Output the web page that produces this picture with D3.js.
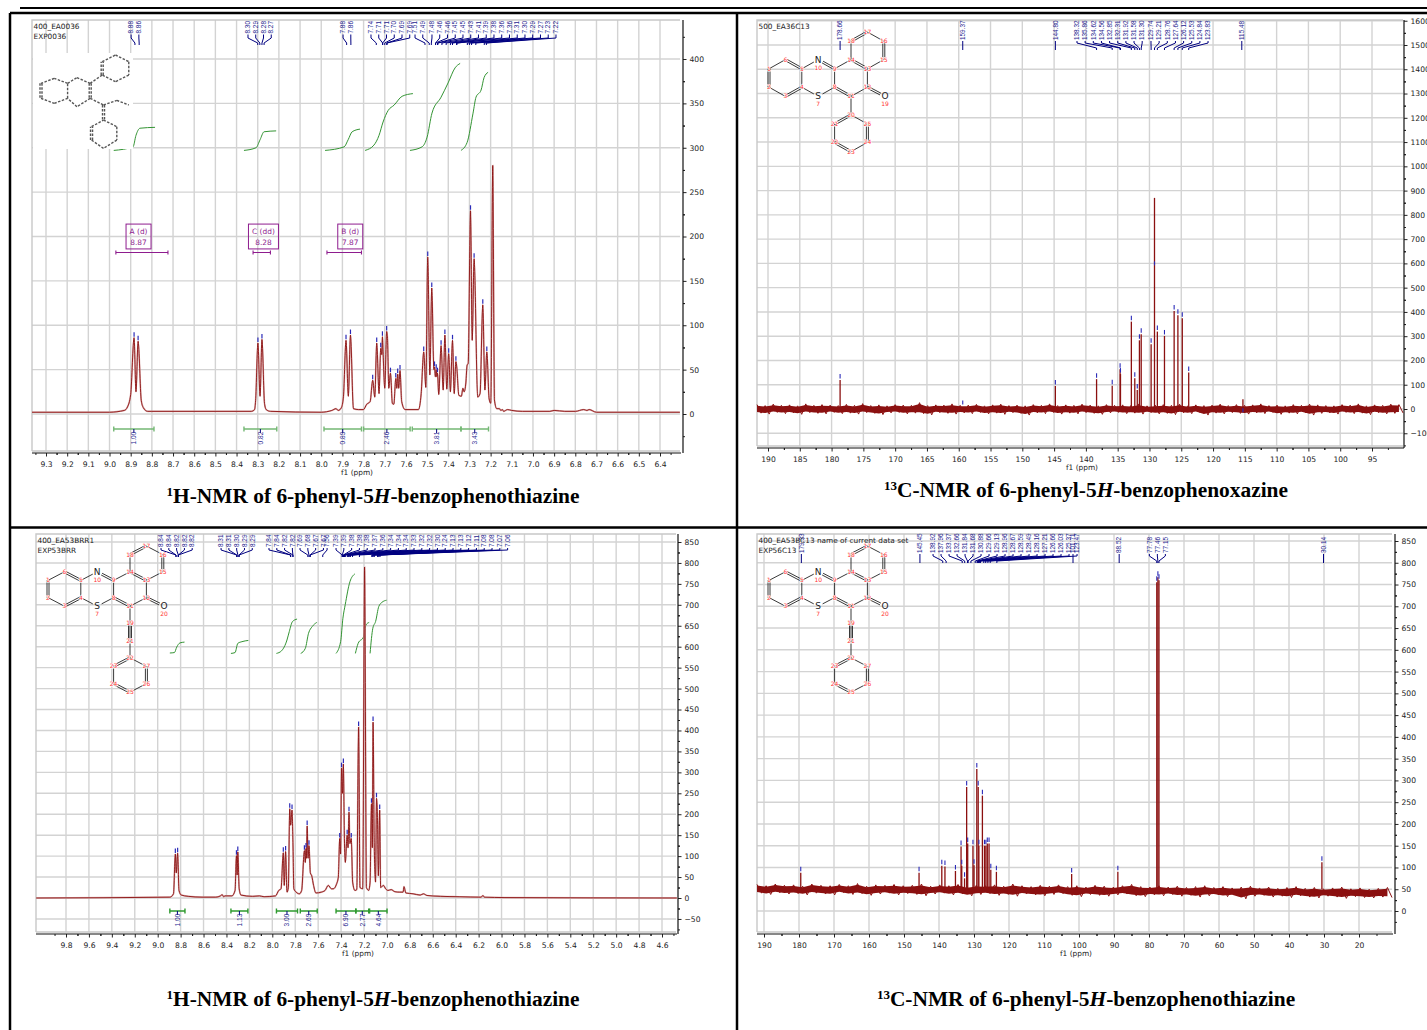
<!DOCTYPE html>
<html>
<head>
<meta charset="utf-8">
<script src="https://d3js.org/d3.v7.min.js"></script>
<style>
  body { margin: 0; background: #fff; }
  svg { display: block; }
</style>
</head>
<body>
<script>
// ---------- panel 1: 1H top left ----------
const p1XTicks = [9.3,9.2,9.1,9.0,8.9,8.8,8.7,8.6,8.5,8.4,8.3,8.2,8.1,8.0,7.9,7.8,7.7,7.6,7.5,7.4,7.3,7.2,7.1,7.0,6.9,6.8,6.7,6.6,6.5,6.4];
const p1YTicks = [0,50,100,150,200,250,300,350,400];
const p1Trace = [[9.366,2],[9.0,2],[8.93,4],[8.915,8],[8.9,22],[8.884,86],[8.875,25],[8.865,82],[8.85,15],[8.84,7],[8.82,3],[8.8,3],
  [8.33,3],[8.315,5],[8.31,15],[8.299,80],[8.289,20],[8.28,84],[8.268,12],[8.26,5],[8.24,3],[8.0,2],
  [7.95,4],[7.93,6],[7.92,4],[7.905,7],[7.895,20],[7.883,83],[7.872,20],[7.862,89],[7.848,6],[7.824,5],[7.801,5],[7.785,11],[7.769,14],
  [7.757,38],[7.747,19],[7.738,80],[7.727,23],[7.719,74],[7.714,67],[7.711,87],[7.708,70],[7.7,29],[7.691,93],[7.687,85],[7.681,29],
  [7.673,46],[7.664,12],[7.657,11],[7.648,40],[7.643,29],[7.639,45],[7.634,29],[7.628,49],[7.62,14],[7.604,5],[7.541,5],[7.528,23],
  [7.516,70],[7.506,30],[7.497,177],[7.487,44],[7.478,142],[7.468,50],[7.465,53],[7.461,42],[7.457,50],[7.454,42],[7.451,46],[7.445,22],
  [7.434,77],[7.424,27],[7.416,89],[7.407,28],[7.398,68],[7.39,25],[7.38,83],[7.372,23],[7.364,59],[7.36,53],[7.35,21],[7.338,20],
  [7.331,29],[7.325,25],[7.317,35],[7.311,55],[7.306,57],[7.295,229],[7.287,83],[7.278,175],[7.261,19],[7.25,23],[7.237,123],[7.227,27],
  [7.218,70],[7.207,17],[7.199,12],[7.19,280],[7.182,16],[7.171,6],[7.158,6],[7.152,4],[7.144,5],[7.139,3],[7.12,5],[7.1,4],[7.05,3],
  [6.92,3],[6.9,4],[6.85,3],[6.8,3],[6.76,5],[6.745,4],[6.735,5],[6.7,2],[6.306,2]];
const p1Picks = [
  { at: 8.898, labels: ["8.88","8.86"] },
  { at: 8.346, labels: ["8.30","8.29","8.28","8.27"] },
  { at: 7.897, labels: ["7.88","7.86"] },
  { at: 7.765, labels: ["7.74","7.71","7.71","7.70","7.69","7.69"] },
  { at: 7.557, labels: ["7.51","7.49"] },
  { at: 7.477, labels: ["7.48","7.46","7.46","7.45","7.45","7.43","7.41","7.39","7.38","7.36","7.36","7.31","7.30","7.29","7.27","7.23","7.22"] }
];
const p1Bars = [[8.98,8.79,"1.00"],[8.365,8.21,"0.82"],[7.987,7.81,"0.89"],[7.8,7.58,"2.46"],[7.57,7.34,"3.81"],[7.34,7.21,"3.43"]];
const p1Curves = [
  [[8.98,297],[8.889,301],[8.875,314],[8.856,322],[8.785,323]],
  [[8.365,297],[8.308,300],[8.289,309],[8.27,318],[8.213,319]],
  [[7.982,297],[7.892,301],[7.873,309],[7.854,318],[7.817,321]],
  [[7.793,297],[7.751,303],[7.727,314],[7.708,329],[7.684,342],[7.656,348],[7.618,358],[7.567,361]],
  [[7.581,297],[7.524,301],[7.5,312],[7.477,339],[7.434,357],[7.401,373],[7.368,390],[7.344,395]],
  [[7.34,297],[7.311,306],[7.283,339],[7.269,357],[7.245,365],[7.231,379],[7.212,385]]
];
const p1Multiplets = [
  { name: "A (d)", shift: "8.87", from: 8.97, to: 8.724 },
  { name: "C (dd)", shift: "8.28", from: 8.322, to: 8.24 },
  { name: "B (d)", shift: "7.87", from: 7.973, to: 7.81 }
];

// ---------- panel 2: 13C top right ----------
const p2XTicks = [190,185,180,175,170,165,160,155,150,145,140,135,130,125,120,115,110,105,100,95];
const p2YTicks = [-100,0,100,200,300,400,500,600,700,800,900,1000,1100,1200,1300,1400,1500,1600];
// [ppm, height, optional blue mark height]
const p2Sticks = [[178.66,119],[159.37,5,27],[144.8,95],[138.32,123],[135.86,96],[134.62,164],[134.56,144],[132.85,360],[132.31,127],[131.92,78],
  [131.58,283],[131.3,308],[129.74,267],[129.21,870,600],[128.76,319],[127.64,301],[126.12,404],[125.53,386],[124.84,374],[123.83,150],[115.3,40,-5]];
const p2Picks = [
  { labels: ["178.66"] },
  { labels: ["159.37"] },
  { labels: ["144.80"] },
  { at: 141.4, labels: ["138.32","135.86","134.62","134.56","132.85","132.31","131.92","131.58","131.30"] },
  { at: 129.76, labels: ["129.74","129.21","128.76","127.64","126.12","125.53","124.84","123.83"] },
  { labels: ["115.48"] }
];
const p2NoiseHi = [18,14,20,15,17,13,21,15,18,16,14,19,15,22,14,17,13,18,16,15,26,14,17,16,21,15,16,19,13,17,20,14,16,13,18,15,21,14,17,15,20,16,13,18,15,17,14,21,13,16,18,15,20,13,17,14,16,20,14,18,15,17,21,14,16,13,18,15,20,17,14,13,18,16,21,13,17,15,20,18];
const p2NoiseLo = [-17,-21,-14,-19,-16,-22,-15,-18,-20,-14,-19,-17,-21,-15,-18,-23,-16,-14,-20,-17,-19,-24,-15,-18,-21,-16,-19,-14,-20,-17,-22,-15,-18,-25,-16,-19,-14,-21,-17,-20,-15,-18,-22,-16,-14,-19,-17,-21,-15,-20,-18,-23,-16,-19,-14,-25,-17,-20,-15,-18,-21,-16,-19,-14,-22,-17,-20,-15,-25,-18,-16,-21,-14,-19,-17,-23,-15,-20,-18,-16];

// ---------- panel 3: 1H bottom left ----------
const p3XTicks = [9.8,9.6,9.4,9.2,9.0,8.8,8.6,8.4,8.2,8.0,7.8,7.6,7.4,7.2,7.0,6.8,6.6,6.4,6.2,6.0,5.8,5.6,5.4,5.2,5.0,4.8,4.6];
const p3YTicks = [-50,0,50,100,150,200,250,300,350,400,450,500,550,600,650,700,750,800,850];
const p3Trace = [[10.06,0],[8.894,2],[8.862,10],[8.846,105],[8.838,60],[8.826,107],[8.814,18],[8.794,7],[8.734,4],[8.613,2],[8.493,2],[8.453,5],[8.437,8],[8.425,3],[8.413,5],
  [8.353,5],[8.325,18],[8.313,101],[8.307,55],[8.301,110],[8.289,22],[8.273,7],[8.173,4],[8.112,5],[8.072,3],[7.972,5],[7.944,18],[7.924,22],
  [7.904,108],[7.896,30],[7.884,111],[7.872,14],[7.86,25],[7.848,213],[7.84,174],[7.828,210],[7.82,133],[7.812,22],[7.792,14],[7.764,10],[7.744,18],
  [7.72,113],[7.712,85],[7.706,118],[7.702,95],[7.696,172],[7.688,95],[7.68,125],[7.668,60],[7.656,53],[7.64,30],[7.62,12],[7.572,14],[7.54,18],[7.512,30],
  [7.484,22],[7.468,22],[7.44,33],[7.424,50],[7.412,142],[7.404,105],[7.396,310],[7.388,250],[7.38,320],[7.371,142],[7.363,85],[7.347,150],[7.339,120],
  [7.331,205],[7.323,130],[7.311,142],[7.299,38],[7.279,18],[7.263,20],[7.247,408],[7.235,25],[7.211,22],[7.195,790],[7.179,25],[7.159,18],[7.147,38],
  [7.135,225],[7.127,120],[7.121,420],[7.111,133],[7.099,38],[7.091,238],[7.083,198],[7.075,53],[7.063,210],[7.055,25],[7.031,30],[7.011,22],[6.991,18],
  [6.963,20],[6.931,15],[6.891,14],[6.859,14],[6.851,27],[6.835,12],[6.771,10],[6.71,7],[6.682,10],[6.65,6],[6.53,4],[6.37,3],[6.178,2],[6.162,6],[6.15,2],[5.97,1],[4.47,0]];
const p3Picks = [
  { at: 8.971, labels: ["8.84","8.84","8.82","8.82","8.82"] },
  { at: 8.447, labels: ["8.31","8.31","8.30","8.29","8.29"] },
  { at: 8.029, labels: ["7.84","7.84","7.82","7.82"] },
  { at: 7.758, labels: ["7.69","7.68","7.67","7.67"] },
  { at: 7.522, labels: ["7.56"] },
  { at: 7.444, labels: ["7.39","7.39","7.38","7.38","7.38","7.37","7.36","7.34","7.34","7.34","7.33","7.32","7.32","7.30","7.24","7.13","7.13","7.12","7.11","7.08","7.08","7.07","7.06"] }
];
const p3Bars = [[8.894,8.762,"1.00"],[8.361,8.213,"1.13"],[7.964,7.78,"3.00"],[7.756,7.608,"2.69"],[7.444,7.271,"6.90"],[7.271,7.159,"2.77"],[7.151,6.999,"4.64"]];
const p3Curves = [
  [[8.894,585],[8.854,586],[8.834,599],[8.806,609],[8.766,611]],
  [[8.361,584],[8.325,586],[8.301,608],[8.265,612],[8.209,615]],
  [[7.964,584],[7.92,590],[7.872,616],[7.852,636],[7.824,660],[7.784,666]],
  [[7.752,584],[7.712,596],[7.684,632],[7.652,648],[7.612,658]],
  [[7.444,584],[7.404,612],[7.384,668],[7.364,700],[7.323,755],[7.279,774]],
  [[7.275,584],[7.251,608],[7.203,624],[7.183,652],[7.155,658]],
  [[7.147,584],[7.123,644],[7.099,660],[7.071,696],[7.043,706],[7.003,711]]
];

// ---------- panel 4: 13C bottom right ----------
const p4XTicks = [190,180,170,160,150,140,130,120,110,100,90,80,70,60,50,40,30,20];
const p4YTicks = [0,50,100,150,200,250,300,350,400,450,500,550,600,650,700,750,800,850];
const p4Sticks = [[179.5,88],[145.7,88],[139.2,104],[138.3,102],[135.3,92],[133.7,148],[133.5,104],[132.7,75],[132.1,285],[131.8,155],[130.3,150],[130.0,105],
  [129.2,326],[128.8,285],[128.6,150],[127.6,265],[127.0,150],[126.6,150],[126.2,155],[125.7,155],[125.2,95],[123.6,90],[102.1,85],[88.9,90],
  [77.78,755],[77.46,767],[77.15,760],[30.6,112]];
const p4Picks = [
  { labels: ["179.33"] },
  { labels: ["145.45"] },
  { at: 141.7, labels: ["138.92","137.96","133.37","132.66","131.84","131.68","130.88","129.66","129.13","128.96","128.67","128.59","128.49","128.16","127.21","126.66","126.03","125.37","123.47"] },
  { labels: ["101.71"] },
  { labels: ["88.52"] },
  { at: 79.9, labels: ["77.78","77.46","77.15"] },
  { labels: ["30.14"] }
];
const p4NoiseHi = [61,58,62,59,60,57,62,59,58,61,58,63,57,60,59,61,58,59,62,57,60,58,61,56,59,58,60,57,62,58,56,59,57,60,56,58,55,59,57,55,58,61,56,55,58,55,57,54,56,58,54,56,53,55,57,53,55,52,54,56,52,54,51,53,55,51,53,50,52,54];
const p4NoiseLo = [41,38,42,39,40,37,41,39,37,42,38,40,36,39,41,37,40,38,35,39,41,37,39,35,38,40,36,38,34,39,37,35,38,40,36,33,38,36,34,37,39,35,33,37,35,38,34,36,32,35,37,33,35,28,34,36,32,34,31,35,32,30,34,32,29,33,31,30,32,31];

// ---------- molecules (lattice columns / rows) ----------
const coreAtoms = [["1",0,4],["2",0,6],["3",1,7],["4",2,6],["5",2,4],["6",1,3],["9",4,4],["8",4,6],["11",5,7],["12",6,6],["13",6,4],["14",5,3],["18",5,1],["17",6,0],["16",7,1],["15",7,3],["10",3,3,"N"],["7",3,7,"S"]];
const coreBonds = [["1","2",2],["2","3",1],["3","4",2],["4","5",1],["5","6",2],["6","1",1],["5","10",1],["10","9",2],["9","8",1],["8","7",1],["7","4",1],["8","11",2],["11","12",1],["12","13",1],["13","14",2],["14","9",1],["14","18",1],["18","17",2],["17","16",1],["16","15",2],["15","13",1]];
const phenylAtoms = [["19",7.07,7,"O"],["20",5,9],["21",4,10],["22",4,12],["23",5,13],["24",6,12],["25",6,10]];
const phenylBonds = [["12","19",2],["11","20",1],["20","21",2],["21","22",1],["22","23",2],["23","24",1],["24","25",2],["25","20",1]];
const alkyneAtoms = [["20",7.07,7,"O"],["19",5,9],["21",5,11],["22",5,13],["23",4,14],["24",4,16],["25",5,17],["26",6,16],["27",6,14]];
const alkyneBonds = [["12","20",2],["11","19",1],["19","21",3],["21","22",1],["22","23",2],["23","24",1],["24","25",2],["25","26",1],["26","27",2],["27","22",1]];
const blurAtoms = [["a",0,4.25],["b",0,6.5],["c",1,7.25],["d",2,6.5],["e",2,4.25],["f",1,3.5],["g",2.7,3.4],["h",3.7,4.25],["i",3.7,6.5],["j",2.7,7.75],["k",4.7,7.5],["l",4.7,9.75],["m",5.7,10.75],["n",5.7,12.75],["o",4.7,14],["p",3.8,12.75],["q",3.8,10.75],["r",5.7,6.8],["s",6.6,7.5],["t",5.6,0],["u",6.6,1],["v",6.6,3],["w",5.6,4],["x",4.6,3],["y",4.6,1]];
const blurBonds = [["a","b",2],["b","c",1],["c","d",1],["d","e",1],["e","f",1],["f","a",1],["e","g",1],["g","h",1],["h","i",2],["i","j",1],["j","d",1],["i","k",1],["k","l",2],["l","m",1],["m","n",1],["n","o",1],["o","p",1],["p","q",2],["q","l",1],["k","r",1],["r","s",1],["h","x",1],["t","u",1],["u","v",1],["v","w",1],["w","x",1],["x","y",2],["y","t",1]];

const svg = d3.select("body").append("svg").attr("width", 1427).attr("height", 1030);
svg.append("rect").attr("width", 1427).attr("height", 1030).attr("fill", "#fff");

const axisFont = "'DejaVu Sans', sans-serif";
const pickFont = "'Liberation Sans', sans-serif";
const blue = "#25258f";
const navy = "#000080";
const spectrum = "#8b1010";

const drawMolecule = (atoms, bonds, x0, y0, sx, sy, opts = {}) => {
  const g = svg.append("g");
  const pos = new Map(atoms.map((a) => [a[0], { x: x0 + a[1] * sx, y: y0 + a[2] * sy, el: a[3] }]));
  const bondStyle = opts.stroke || "#222";
  bonds.forEach(([a, b, order]) => {
    const p = pos.get(a), q = pos.get(b);
    const dx = q.x - p.x, dy = q.y - p.y, len = Math.hypot(dx, dy);
    const ux = dx / len, uy = dy / len;
    const s = p.el ? 5 : 0, e = q.el ? 5 : 0;
    const offs = order === 3 ? [-1.5, 0, 1.5] : order === 2 ? [-1, 1] : [0];
    offs.forEach((o) => {
      g.append("line")
        .attr("x1", p.x + ux * s - uy * o)
        .attr("y1", p.y + uy * s + ux * o)
        .attr("x2", q.x - ux * e - uy * o)
        .attr("y2", q.y - uy * e + ux * o)
        .attr("stroke", bondStyle)
        .attr("stroke-width", opts.width || 0.9)
        .attr("stroke-dasharray", opts.dash || null);
    });
  });
  if (opts.noLabels) return g;
  atoms.forEach((a) => {
    const p = pos.get(a[0]);
    if (p.el) {
      g.append("text").attr("x", p.x).attr("y", p.y + 3).attr("text-anchor", "middle")
        .attr("font-family", axisFont).attr("font-size", 9).attr("fill", "#222").text(p.el);
    }
    //atom number with a white halo so it sits on the bond
    g.append("text").attr("x", p.x).attr("y", p.el ? p.y + 10 : p.y + 2).attr("text-anchor", "middle")
      .attr("font-family", axisFont).attr("font-size", 6).attr("fill", "#f33")
      .attr("stroke", "#fff").attr("stroke-width", 1.2).attr("paint-order", "stroke").text(a[0]);
  });
  return g;
};

const drawPanel = (cfg) => {
  const g = svg.append("g");
  const { frame } = cfg;
  const x = d3.scaleLinear().domain(cfg.xCal).range(cfg.xPx);
  const y = d3.scaleLinear().domain(cfg.yCal).range(cfg.yPx);

  //grid
  const gridStroke = { stroke: "#d3d3d3", width: 1.4 };
  g.selectAll(".vgrid").data(cfg.xTicks).enter().append("line")
    .attr("x1", (d) => x(d)).attr("x2", (d) => x(d)).attr("y1", frame.t).attr("y2", frame.b)
    .attr("stroke", gridStroke.stroke).attr("stroke-width", gridStroke.width);
  g.selectAll(".hgrid").data(cfg.yTicks).enter().append("line")
    .attr("x1", frame.l).attr("x2", frame.r).attr("y1", (d) => y(d)).attr("y2", (d) => y(d))
    .attr("stroke", gridStroke.stroke).attr("stroke-width", gridStroke.width);
  g.append("path")
    .attr("d", `M${frame.l},${frame.b}V${frame.t}H${frame.r}M${frame.l},${frame.b}H${frame.r}`)
    .attr("fill", "none").attr("stroke", "#c8c8c8").attr("stroke-width", 1.4);

  //axes, major then minor ticks
  const halfStepX = Math.abs(cfg.xTicks[1] - cfg.xTicks[0]) / 2;
  const minorX = cfg.xTicks.flatMap((t) => [t + halfStepX, t - halfStepX]).filter((t) => x(t) > frame.l && x(t) < frame.r);
  const halfStepY = Math.abs(cfg.yTicks[1] - cfg.yTicks[0]) / 2;
  const minorY = cfg.yTicks.flatMap((t) => [t + halfStepY, t - halfStepY]).filter((t) => y(t) > frame.t && y(t) < cfg.axisY);

  const xAxisGroup = g.append("g").attr("transform", `translate(0,${cfg.axisY})`);
  xAxisGroup.call(d3.axisBottom(x).tickValues(cfg.xTicks).tickSize(3.5).tickPadding(5.5).tickFormat(d3.format(cfg.xFormat)));
  xAxisGroup.append("g").call(d3.axisBottom(x).tickValues(minorX).tickSize(2).tickFormat(""));
  xAxisGroup.selectAll(".domain").remove();
  xAxisGroup.append("line").attr("x1", frame.l).attr("x2", frame.r + 1).attr("stroke", "#111").attr("stroke-width", 1.2);

  const yAxisGroup = g.append("g").attr("transform", `translate(${cfg.axisX},0)`);
  yAxisGroup.call(d3.axisRight(y).tickValues(cfg.yTicks).tickSize(3.5).tickPadding(3).tickFormat(d3.format("d")));
  yAxisGroup.append("g").call(d3.axisRight(y).tickValues(minorY).tickSize(2).tickFormat(""));
  yAxisGroup.selectAll(".domain").remove();
  yAxisGroup.append("line").attr("y1", frame.t).attr("y2", cfg.axisY).attr("stroke", "#111").attr("stroke-width", 1.2);

  g.selectAll(".tick text").attr("font-family", axisFont).attr("font-size", 7.6).attr("fill", "#222");
  g.selectAll(".tick line").attr("stroke", "#222");

  g.append("text").attr("x", cfg.f1x).attr("y", cfg.axisY + 21.5).attr("text-anchor", "middle")
    .attr("font-family", axisFont).attr("font-size", 7.4).attr("fill", "#222").text("f1 (ppm)");

  //data set names
  cfg.names.forEach((name, i) => {
    g.append("text").attr("x", frame.l + 1.5).attr("y", frame.t + 9 + i * 9.5)
      .attr("font-family", axisFont).attr("font-size", 7.35).attr("fill", "#222").text(name);
  });

  //1H: integral curves, bars and trace
  if (cfg.curves) {
    const curve = d3.line().x((d) => x(d[0])).y((d) => y(d[1])).curve(d3.curveMonotoneX);
    g.selectAll(".integral").data(cfg.curves).enter().append("path")
      .attr("d", curve).attr("fill", "none").attr("stroke", "#339433").attr("stroke-width", 1);
  }
  if (cfg.blurred) {
    g.append("rect").attr("x", cfg.blurred.x).attr("y", cfg.blurred.y).attr("width", cfg.blurred.w).attr("height", cfg.blurred.h).attr("fill", "#fff");
  }
  if (cfg.bars) {
    const barY = cfg.barY;
    const bars = g.selectAll(".bar").data(cfg.bars).enter().append("g");
    bars.append("path")
      .attr("d", (d) => `M${x(d[0])},${barY - 2.5}v5M${x(d[0])},${barY}H${x(d[1])}M${x(d[1])},${barY - 2.5}v5`)
      .attr("fill", "none").attr("stroke", cfg.barColor).attr("stroke-width", 1.4);
    bars.append("line")
      .attr("x1", (d) => (x(d[0]) + x(d[1])) / 2).attr("x2", (d) => (x(d[0]) + x(d[1])) / 2)
      .attr("y1", barY).attr("y2", barY + 4).attr("stroke", navy);
    bars.append("text")
      .attr("transform", (d) => `translate(${(x(d[0]) + x(d[1])) / 2},${barY + 15.5}) rotate(-90)`)
      .attr("dy", "0.35em").attr("font-family", pickFont).attr("font-size", 6.6).attr("fill", blue)
      .text((d) => d[2]);
  }
  if (cfg.trace) {
    const line = d3.line().x((d) => x(d[0])).y((d) => y(d[1])).curve(d3.curveMonotoneX);
    //soft halo of the scanned trace, then the line itself
    g.append("path").datum(cfg.trace).attr("d", line).attr("fill", "none").attr("stroke", "#dcb0b0").attr("stroke-width", 1.7);
    g.append("path").datum(cfg.trace).attr("d", line).attr("fill", "none").attr("stroke", spectrum).attr("stroke-width", 0.9);
    //blue mark on each picked maximum
    const tops = cfg.trace.filter((d, i, a) => i > 0 && i < a.length - 1 && d[1] > a[i - 1][1] && d[1] > a[i + 1][1] && d[1] >= cfg.markMin && d[1] < cfg.markMax);
    g.selectAll(".top").data(tops).enter().append("line")
      .attr("x1", (d) => x(d[0])).attr("x2", (d) => x(d[0]))
      .attr("y1", (d) => y(d[1]) - 1).attr("y2", (d) => y(d[1]) - 5.5)
      .attr("stroke", "#2a2ab8").attr("stroke-width", 1.2);
  }

  //13C: noise band, sticks and marks
  if (cfg.sticks) {
    const n = cfg.noiseHi.length;
    const bandX = d3.scaleLinear().domain([0, n - 0.5]).range([frame.l, frame.r]);
    //solid core between the envelopes
    const core = d3.area().x((d, i) => bandX(i))
      .y0((d, i) => y(cfg.noiseLo[i] + (d - cfg.noiseLo[i]) * 0.12))
      .y1((d, i) => y(cfg.noiseLo[i] + (d - cfg.noiseLo[i]) * 0.88));
    g.append("path").datum(cfg.noiseHi).attr("d", core).attr("fill", spectrum);
    //jagged edge running up and down between the envelopes
    const zigzag = cfg.noiseHi.flatMap((d, i) => [[i, d], [i + 0.5, cfg.noiseLo[i]]]);
    const jag = d3.line().x((d) => bandX(d[0])).y((d) => y(d[1]));
    g.append("path").datum(zigzag).attr("d", jag).attr("fill", "none").attr("stroke", spectrum).attr("stroke-width", 1);
    g.selectAll(".stick").data(cfg.sticks).enter().append("line")
      .attr("x1", (d) => x(d[0])).attr("x2", (d) => x(d[0]))
      .attr("y1", y(cfg.stickBase)).attr("y2", (d) => y(d[1]))
      .attr("stroke", spectrum).attr("stroke-width", 1.3);
    g.selectAll(".mark").data(cfg.sticks).enter().append("line")
      .attr("x1", (d) => x(d[0])).attr("x2", (d) => x(d[0]))
      .attr("y1", (d) => (d[2] !== undefined ? y(d[2]) + 2 : y(d[1]) - 1.5))
      .attr("y2", (d) => (d[2] !== undefined ? y(d[2]) - 2 : y(d[1]) - 6))
      .attr("stroke", "#2a2ab8").attr("stroke-width", 1.1);
  }

  //multiplet boxes
  if (cfg.multiplets) {
    const purple = "#8e1c8e";
    const m = g.selectAll(".mult").data(cfg.multiplets).enter().append("g").attr("fill", "none").attr("stroke", purple);
    m.append("rect")
      .attr("x", (d) => x(+d.shift) - d.name.length * 2.5 + 1.5).attr("width", (d) => d.name.length * 5)
      .attr("y", y(214)).attr("height", y(186) - y(214)).attr("stroke-width", 1);
    m.append("path")
      .attr("d", (d) => `M${x(d.from)},${y(182) - 2}v4M${x(d.from)},${y(182)}H${x(d.to)}M${x(d.to)},${y(182) - 2}v4`)
      .attr("stroke-width", 1.1);
    m.append("text").attr("x", (d) => x(+d.shift) + 1.5).attr("y", y(203)).attr("text-anchor", "middle")
      .attr("stroke", "none").attr("fill", purple).attr("font-family", axisFont).attr("font-size", 7.4).text((d) => d.name);
    m.append("text").attr("x", (d) => x(+d.shift) + 1.5).attr("y", y(190)).attr("text-anchor", "middle")
      .attr("stroke", "none").attr("fill", purple).attr("font-family", axisFont).attr("font-size", 7.4).text((d) => d.shift);
  }

  //peak picks
  const pk = cfg.pick;
  cfg.picks.forEach((group) => {
    group.labels.forEach((label, i) => {
      const tx = x(+label);
      const lx = group.at !== undefined ? x(group.at) + i * pk.step : tx;
      g.append("path")
        .attr("d", `M${lx},${pk.bottom + 1}V${pk.elbow}L${tx},${pk.target - 2}V${pk.target}`)
        .attr("fill", "none").attr("stroke", navy).attr("stroke-width", 1);
      g.append("text")
        .attr("transform", `translate(${lx},${pk.bottom}) rotate(-90)`)
        .attr("dy", "0.35em").attr("font-family", pickFont).attr("font-size", pk.size).attr("fill", blue)
        .text(label);
    });
  });
};

drawPanel({
  frame: { l: 32, r: 680, t: 20, b: 451 }, axisX: 683, axisY: 453, f1x: 357,
  xCal: [9.3, 6.4], xPx: [46, 660], yCal: [0, 400], yPx: [414, 59],
  xTicks: p1XTicks, yTicks: p1YTicks, xFormat: ".1f",
  names: ["400_EA0036", "EXP0036"],
  trace: p1Trace, markMin: 30, markMax: 250,
  curves: p1Curves, bars: p1Bars, barY: 429, barColor: "#74b874",
  blurred: { x: 33, y: 53, w: 100, h: 96 },
  multiplets: p1Multiplets,
  picks: p1Picks, pick: { step: 7.75, bottom: 33.5, elbow: 38, target: 45, size: 6.4 }
});
// blurred bitmap of the structure
const defs = svg.append("defs");
defs.append("filter").attr("id", "soft").append("feGaussianBlur").attr("stdDeviation", 0.75);
drawMolecule(blurAtoms, blurBonds, 41, 55, 13.3, 6.67, { noLabels: true, stroke: "#555", width: 1.4, dash: "2.5 1.5" }).attr("filter", "url(#soft)");

drawPanel({
  frame: { l: 757, r: 1403, t: 20, b: 446 }, axisX: 1404, axisY: 448, f1x: 1082,
  xCal: [190, 95], xPx: [768, 1372], yCal: [0, 1500], yPx: [409, 45],
  xTicks: p2XTicks, yTicks: p2YTicks, xFormat: "d",
  names: ["500_EA36C13"],
  sticks: p2Sticks, stickBase: 0, noiseHi: p2NoiseHi, noiseLo: p2NoiseLo,
  picks: p2Picks, pick: { step: 8.15, bottom: 40, elbow: 43, target: 50, size: 6.4 }
});
drawMolecule(coreAtoms.concat(phenylAtoms), coreBonds.concat(phenylBonds), 769, 32, 16.4, 9.2);

drawPanel({
  frame: { l: 36, r: 676, t: 534, b: 932 }, axisX: 678, axisY: 934, f1x: 358,
  xCal: [9.8, 4.6], xPx: [66, 662], yCal: [0, 850], yPx: [898, 542],
  xTicks: p3XTicks, yTicks: p3YTicks, xFormat: ".1f",
  names: ["400_EA53BRR1", "EXP53BRR"],
  trace: p3Trace, markMin: 90, markMax: 500,
  curves: p3Curves, bars: p3Bars, barY: 911, barColor: "#2f9a2f",
  picks: p3Picks, pick: { step: 7.8, bottom: 547, elbow: 550, target: 557, size: 6.4 }
});
drawMolecule(coreAtoms.concat(alkyneAtoms), coreBonds.concat(alkyneBonds), 48, 546, 16.4, 8.6);

drawPanel({
  frame: { l: 757, r: 1392, t: 534, b: 932 }, axisX: 1395, axisY: 934, f1x: 1076,
  xCal: [190, 20], xPx: [764, 1359], yCal: [0, 850], yPx: [911, 541],
  xTicks: p4XTicks, yTicks: p4YTicks, xFormat: "d",
  names: ["400_EA53BC13 name of current data set", "EXP56C13"],
  sticks: p4Sticks, stickBase: 50, noiseHi: p4NoiseHi, noiseLo: p4NoiseLo,
  picks: p4Picks, pick: { step: 8, bottom: 553, elbow: 556, target: 563, size: 6.4 }
});
drawMolecule(coreAtoms.concat(alkyneAtoms), coreBonds.concat(alkyneBonds), 769, 546, 16.4, 8.6);

//captions
const captions = [
  { cx: 373, y: 503, sup: "1", el: "H-NMR of 6-phenyl-5", end: "-benzophenothiazine" },
  { cx: 1086, y: 497, sup: "13", el: "C-NMR of 6-phenyl-5", end: "-benzophenoxazine" },
  { cx: 373, y: 1006, sup: "1", el: "H-NMR of 6-phenyl-5", end: "-benzophenothiazine" },
  { cx: 1086, y: 1006, sup: "13", el: "C-NMR of 6-phenyl-5", end: "-benzophenothiazine" }
];
captions.forEach((c) => {
  const t = svg.append("text").attr("x", c.cx).attr("y", c.y).attr("text-anchor", "middle")
    .attr("font-family", "'Liberation Serif', serif").attr("font-weight", "bold").attr("font-size", 21.4).attr("fill", "#000");
  t.append("tspan").attr("font-size", 13).attr("dy", -7).text(c.sup);
  t.append("tspan").attr("dy", 7).text(c.el);
  t.append("tspan").attr("font-style", "italic").text("H");
  t.append("tspan").text(c.end);
});

//table rules
const rules = [
  [20, 8, 1427, 8, 2], [10, 13, 1427, 13, 2.5], [10, 527.5, 1427, 527.5, 2.5],
  [10, 13, 10, 1030, 2.5], [737, 13, 737, 1030, 2.5]
];
svg.selectAll(".rule").data(rules).enter().append("line")
  .attr("x1", (d) => d[0]).attr("y1", (d) => d[1]).attr("x2", (d) => d[2]).attr("y2", (d) => d[3])
  .attr("stroke", "#000").attr("stroke-width", (d) => d[4]);
</script>
</body>
</html>
